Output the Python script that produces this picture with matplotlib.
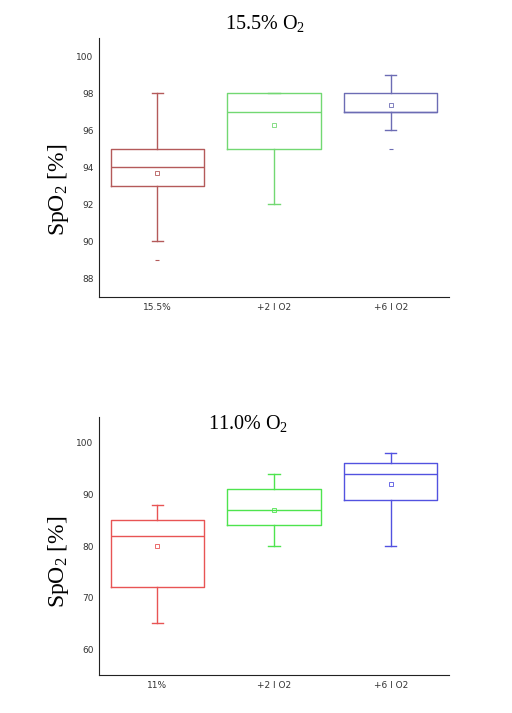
import matplotlib
matplotlib.use("Agg")
import matplotlib.pyplot as plt

plt.rcParams["mathtext.fontset"] = "custom"
plt.rcParams["mathtext.rm"] = "Liberation Serif"
plt.rcParams["mathtext.it"] = "Liberation Serif:italic"
plt.rcParams["mathtext.bf"] = "Liberation Serif:bold"

categories_top = ["15.5%", "+2 l O2", "+6 l O2"]
categories_bot = ["11%", "+2 l O2", "+6 l O2"]

# top panel (15.5% O2)
top_q1 = [93, 95, 97]
top_med = [94, 97, 97]
top_q3 = [95, 98, 98]
top_wlo = [90, 92, 96]
top_whi = [98, 98, 99]
top_mean = [93.7, 96.3, 97.4]
top_fliers = [[89], [], [95]]

# bottom panel (11.0% O2)
bot_q1 = [72, 84, 89]
bot_med = [82, 87, 94]
bot_q3 = [85, 91, 96]
bot_wlo = [65, 80, 80]
bot_whi = [88, 94, 98]
bot_mean = [80, 87, 92]
bot_fliers = [[], [], []]

top_colors = ["#b45a5a", "#72d872", "#6c6cb4"]
bot_colors = ["#e85454", "#4ee44e", "#5252e0"]

fig = plt.figure(figsize=(5.12, 7.13), dpi=100)
W, H = 512, 713


def panel(rect, cats, q1, med, q3, wlo, whi, mean, fliers, colors, ylim, yticks,
          title, title_xy, label_y):
    l, t, r, b = rect
    ax = fig.add_axes([l / W, 1 - b / H, (r - l) / W, (b - t) / H])
    for i in range(3):
        st = [dict(q1=q1[i], med=med[i], q3=q3[i], whislo=wlo[i], whishi=whi[i],
                   mean=mean[i], fliers=fliers[i], label=cats[i])]
        c = colors[i]
        ax.bxp(st, positions=[i + 1], widths=0.8, showmeans=True, showfliers=True,
               boxprops=dict(color=c, linewidth=1.0),
               medianprops=dict(color=c, linewidth=1.0),
               whiskerprops=dict(color=c, linewidth=1.0),
               capprops=dict(color=c, linewidth=1.0),
               capwidths=0.1,
               meanprops=dict(marker="s", markersize=2.5, markerfacecolor="none",
                              markeredgecolor=c, markeredgewidth=0.6),
               flierprops=dict(marker="_", markersize=3, markeredgecolor=c,
                               markeredgewidth=0.8))
    ax.set_xlim(0.5, 3.5)
    ax.set_ylim(*ylim)
    ax.set_yticks(yticks)
    ax.set_xticks([1, 2, 3])
    ax.set_xticklabels(cats)
    ax.tick_params(axis="both", length=0, labelsize=6.5, colors="#333333", pad=4)
    ax.spines["top"].set_visible(False)
    ax.spines["right"].set_visible(False)
    ax.spines["left"].set_color("#222222")
    ax.spines["bottom"].set_color("#222222")
    ax.set_ylabel("SpO$_2$ [%]", family="Liberation Serif", fontsize=17)
    ax.yaxis.set_label_coords((71 - l) / (r - l), (b - label_y) / (b - t))
    fig.text(title_xy[0] / W, 1 - title_xy[1] / H, title, family="Liberation Serif",
             fontsize=14.5, ha="center", va="center")
    return ax


panel((99, 38, 449, 297), categories_top, top_q1, top_med, top_q3, top_wlo, top_whi,
      top_mean, top_fliers, top_colors, (87, 101), [88, 90, 92, 94, 96, 98, 100],
      "15.5% O$_2$", (265, 24), 190)
panel((99, 417, 449, 675), categories_bot, bot_q1, bot_med, bot_q3, bot_wlo, bot_whi,
      bot_mean, bot_fliers, bot_colors, (55, 105), [60, 70, 80, 90, 100],
      "11.0% O$_2$", (248, 424), 562)

fig.savefig("out.png", dpi=100)
